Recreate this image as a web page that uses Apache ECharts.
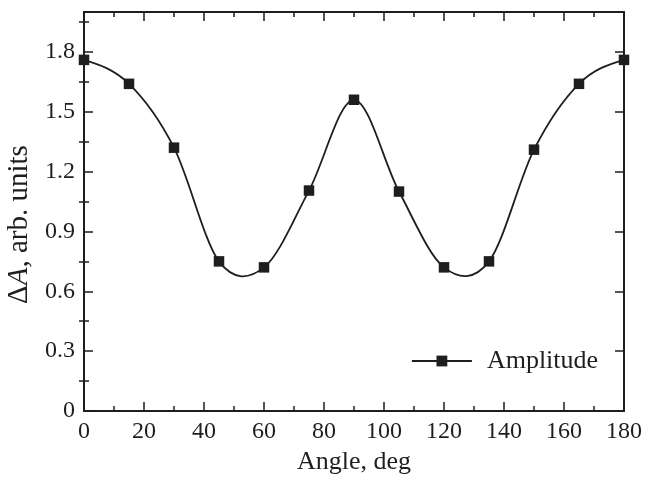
<!DOCTYPE html>
<html>
<head>
<meta charset="utf-8">
<script src="https://cdn.jsdelivr.net/npm/echarts@6/dist/echarts.min.js"></script>
<style>html,body{margin:0;padding:0;background:#fff}#c{width:646px;height:477px}</style>
</head>
<body>
<div id="c"></div>
<script>
const angles = [0, 15, 30, 45, 60, 75, 90, 105, 120, 135, 150, 165, 180];
const amplitude = [1.76, 1.64, 1.32, 0.75, 0.72, 1.105, 1.56, 1.10, 0.72, 0.75, 1.31, 1.64, 1.76];
const yMajorTicks = [0, 0.3, 0.6, 0.9, 1.2, 1.5, 1.8];
const yMinorTicks = [0.15, 0.45, 0.75, 1.05, 1.35, 1.65, 1.95];
const xTickInterval = 20;

const font = 'Liberation Serif';
const ink = '#1e1e1e';
const chart = echarts.init(document.getElementById('c'), null, {renderer: 'canvas'});

const baseX = {
  type: 'value', min: 0, max: 180, interval: xTickInterval,
  axisLine: {show: true, onZero: false, lineStyle: {color: ink, width: 2}},
  axisTick: {show: true, inside: true, length: 9, lineStyle: {color: ink, width: 1.5}},
  minorTick: {show: true, splitNumber: 2, length: 5, lineStyle: {color: ink, width: 1.5}},
  splitLine: {show: false}, minorSplitLine: {show: false}
};
const baseY = {
  type: 'value', min: 0, max: 2.0,
  axisLine: {show: true, onZero: false, lineStyle: {color: ink, width: 2}},
  splitLine: {show: false}
};

// Smooth curve through the data points (cubic spline drawn as Bezier segments via the axes' coord system)
function curveSegment(params, api) {
  const i = params.dataIndex;
  const n = angles.length;
  if (i >= n - 1) return null;
  const P = k => api.coord([angles[k], amplitude[k]]);
  const inner = k => { const a = P(k - 1), b = P(k + 1); return [(b[0] - a[0]) / 2, (b[1] - a[1]) / 2]; };
  const tangent = k => {
    if (k === 0) {
      const a = P(0), b = P(1), m = inner(1);
      return [(3 * (b[0] - a[0]) - m[0]) / 2, (3 * (b[1] - a[1]) - m[1]) / 2];
    }
    if (k === n - 1) {
      const a = P(n - 2), b = P(n - 1), m = inner(n - 2);
      return [(3 * (b[0] - a[0]) - m[0]) / 2, (3 * (b[1] - a[1]) - m[1]) / 2];
    }
    return inner(k);
  };
  const p0 = P(i), p1 = P(i + 1), m0 = tangent(i), m1 = tangent(i + 1);
  return {
    type: 'bezierCurve',
    shape: {
      x1: p0[0], y1: p0[1], x2: p1[0], y2: p1[1],
      cpx1: p0[0] + m0[0] / 3, cpy1: p0[1] + m0[1] / 3,
      cpx2: p1[0] - m1[0] / 3, cpy2: p1[1] - m1[1] / 3
    },
    style: {stroke: ink, lineWidth: 1.8, fill: null}
  };
}

chart.setOption({
  animation: false,
  grid: {left: 84, right: 22, top: 12, bottom: 66, containLabel: false, outerBoundsMode: 'none'},
  legend: {
    show: true, left: 411, top: 348, padding: 0,
    itemWidth: 60, itemHeight: 13.5,
    lineStyle: {color: ink, width: 1.8, opacity: 1},
    textStyle: {fontFamily: font, fontSize: 26, color: ink, padding: [0, 0, 0, 10]},
    data: ['Amplitude']
  },
  xAxis: [
    Object.assign({}, baseX, {
      position: 'bottom',
      name: 'Angle, deg', nameLocation: 'middle', nameGap: 35,
      nameTextStyle: {fontFamily: font, fontSize: 26, color: ink},
      axisLabel: {show: true, margin: 9, fontFamily: font, fontSize: 24, color: ink}
    }),
    Object.assign({}, baseX, {
      position: 'top',
      axisLabel: {show: false}
    })
  ],
  yAxis: [
    Object.assign({}, baseY, {
      position: 'left',
      name: '{n|Δ}{i|A}{n|, arb. units}', nameLocation: 'middle', nameGap: 50, nameRotate: 90,
      nameTextStyle: {
        fontFamily: font, fontSize: 29, color: ink, padding: [0, 26, 0, 0],
        rich: {
          n: {fontFamily: font, fontSize: 29, color: ink},
          i: {fontFamily: font, fontSize: 29, color: ink, fontStyle: 'italic'}
        }
      },
      axisTick: {show: true, inside: true, length: 9, customValues: yMajorTicks, lineStyle: {color: ink, width: 1.5}},
      axisLabel: {show: true, margin: 9, customValues: yMajorTicks, fontFamily: font, fontSize: 24, color: ink,
        formatter: v => (v === 0 ? '0' : v.toFixed(1))}
    }),
    Object.assign({}, baseY, {
      position: 'right',
      axisTick: {show: true, inside: true, length: 9, customValues: yMajorTicks, lineStyle: {color: ink, width: 1.5}},
      axisLabel: {show: false}
    }),
    Object.assign({}, baseY, {
      position: 'left',
      axisLine: {show: false},
      axisTick: {show: true, inside: true, length: 5, customValues: yMinorTicks, lineStyle: {color: ink, width: 1.5}},
      axisLabel: {show: false}
    }),
    Object.assign({}, baseY, {
      position: 'right',
      axisLine: {show: false},
      axisTick: {show: true, inside: true, length: 5, customValues: yMinorTicks, lineStyle: {color: ink, width: 1.5}},
      axisLabel: {show: false}
    })
  ],
  series: [
    {
      name: 'curve', type: 'custom', xAxisIndex: 0, yAxisIndex: 0,
      data: angles.map((a, i) => [a, amplitude[i]]),
      encode: {x: 0, y: 1},
      renderItem: curveSegment,
      clip: false, z: 3, silent: true
    },
    {
      name: 'Amplitude', type: 'line', xAxisIndex: 0, yAxisIndex: 0,
      data: angles.map((a, i) => [a, amplitude[i]]),
      symbol: 'rect', symbolSize: 10.5, showAllSymbol: true,
      lineStyle: {color: ink, width: 1.8, opacity: 0},
      itemStyle: {color: ink, borderColor: ink, borderWidth: 0},
      clip: false, z: 5
    }
  ]
});
</script>
</body>
</html>
